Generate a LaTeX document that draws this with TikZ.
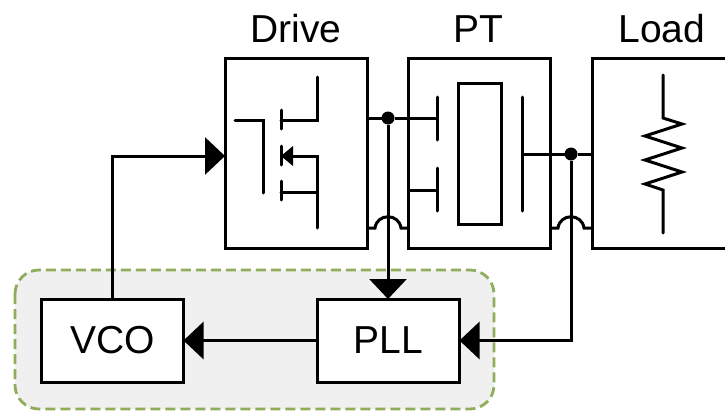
\documentclass[tikz,border=0pt]{standalone}
\usepackage{fontspec}
\setmainfont{Liberation Sans}
\usetikzlibrary{arrows.meta,calc}
\definecolor{grpgreen}{HTML}{8FAE5C}
\definecolor{grpfill}{HTML}{F0F0F0}
\tikzset{
  x=1pt,y=-1pt,
  wire/.style={line width=3pt,black,line join=miter},
  thinwire/.style={line width=3pt,black,line cap=round,line join=miter},
  block/.style={draw=black,line width=3pt,fill=white,inner sep=0pt,outer sep=0pt,font=\fontsize{39}{39}\selectfont},
  title/.style={inner sep=0pt,font=\fontsize{39}{39}\selectfont,anchor=center},
  dotnode/.style={circle,fill=black,inner sep=0pt,minimum size=13pt,outer sep=0pt},
  bigtip/.style={-{Triangle[length=20pt,width=37pt,fill=black]}},
  group/.style={draw=grpgreen,fill=grpfill,line width=2.8pt,dash pattern=on 10pt off 5pt,rounded corners=24pt},
}
\begin{document}
\begin{tikzpicture}
\clip (0,0) rectangle (725,410);
\fill[white] (0,0) rectangle (725,410);
% group region
\draw[group] (15,270) rectangle (494,409);
% blocks
\node[block,minimum width=142pt,minimum height=190pt] (drive) at (296,153) {};
\node[block,minimum width=142pt,minimum height=190pt] (pt) at (479.5,153) {};
\node[block,minimum width=170pt,minimum height=190pt] (load) at (677,153) {};
\node[block,minimum width=142pt,minimum height=83pt] (vco) at (112.5,340.5) {VCO};
\node[block,minimum width=142pt,minimum height=83pt] (pll) at (388.5,340.5) {PLL};
\node[title] (tdrive) at (296,29) {Drive};
\node[title] (tpt) at (478,29) {PT};
\node[title] (tload) at (662,29) {Load};
% crystal inside PT
\node[draw=black,line width=3pt,inner sep=0pt,outer sep=0pt,minimum width=43pt,minimum height=141pt] (xtal) at (479.5,153.5) {};
% junctions and free ends
\node[dotnode] (dotA) at (388,118) {};
\node[dotnode] (dotB) at (571,154) {};
\coordinate (plateA) at (437,118);
\coordinate (plateB) at (437,190);
\coordinate (plateC) at (522,154);
\coordinate (gateIn) at (235,120);
% wires to PT
\draw[wire] (drive.east |- dotA) -- (dotA) -- (plateA);
\draw[wire] (pt.west |- plateB) -- (plateB);
\draw[wire] (plateC) -- (dotB) -- (load.west |- dotB);
\draw[thinwire] (437,97) -- (437,140);
\draw[thinwire] (437,168) -- (437,211);
\draw[thinwire] (522,97) -- (522,211);
% hop-over wires
\draw[wire] (drive.east |- 0,228) -- (375,228) .. controls (377,213) and (399,213) .. (401,228) -- (pt.west |- 0,228);
\draw[wire] (pt.east |- 0,228) -- (558,228) .. controls (560,213) and (582,213) .. (584,228) -- (load.west |- 0,228);
% feedback and control
\draw[wire,bigtip] (dotA) -- (pll.north -| dotA);
\draw[wire,bigtip] (dotB) |- (pll.east);
\draw[wire,bigtip] (pll.west) -- (vco.east);
\draw[wire,bigtip] (vco.north) |- (drive.west |- 0,156);
% MOSFET
\draw[thinwire] (gateIn) -- (263,120) -- (263,193);
\draw[thinwire] (281,110) -- (281,129);
\draw[thinwire] (281,146) -- (281,165);
\draw[thinwire] (281,181) -- (281,200);
\draw[thinwire] (281,120) -- (317,120) -- (317,77);
\draw[thinwire] (281,192) -- (317,192);
\draw[thinwire] (291,156) -- (317,156) -- (317,228);
\fill[black] (281,156) -- (293,146) -- (293,166) -- cycle;
% resistor
\draw[thinwire] (663,75) -- (663,118) -- (682,124) -- (645,136) -- (682,148) -- (645,160) -- (682,172) -- (645,184) -- (663,190) -- (663,233);
\end{tikzpicture}
\end{document}
